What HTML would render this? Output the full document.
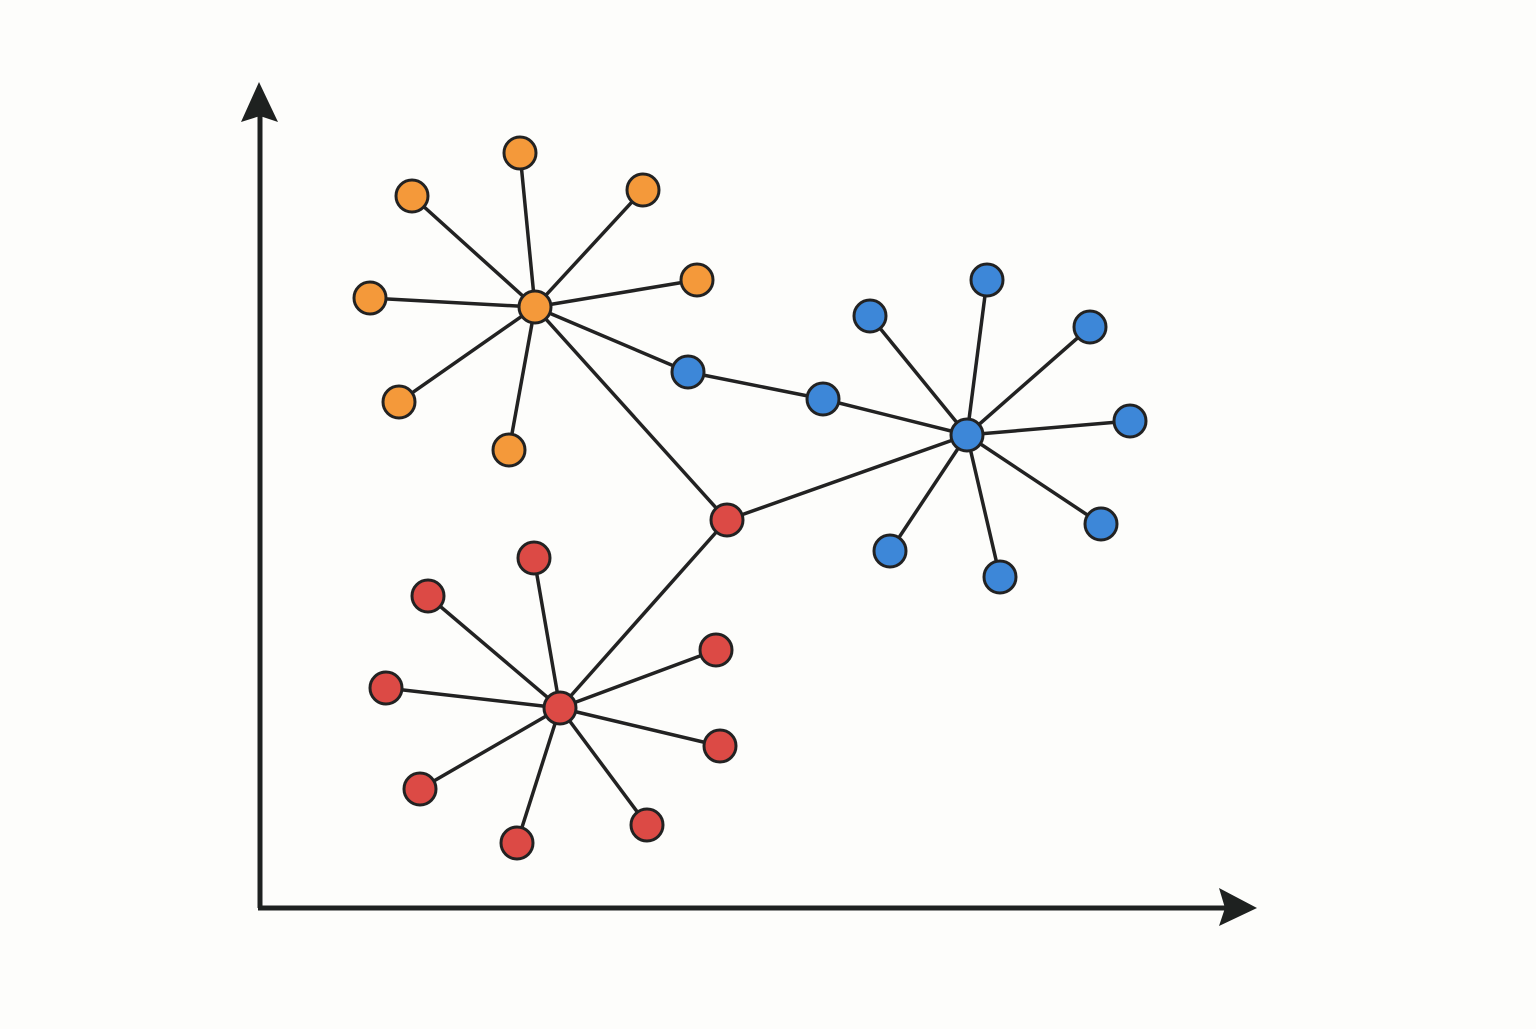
<!DOCTYPE html>
<html><head><meta charset="utf-8"><style>html,body{margin:0;padding:0;background:#fdfdfb}</style></head>
<body>
<svg width="1536" height="1024" viewBox="0 0 1536 1024" xmlns="http://www.w3.org/2000/svg">
<rect width="1536" height="1024" fill="#fdfdfb"/>
<g stroke="#1e2120" stroke-width="5" fill="none">
<line x1="260" y1="112" x2="260" y2="908"/>
<line x1="258" y1="908" x2="1228" y2="908"/>
</g>
<polygon points="259,82 278,122 260,116 241,122" fill="#1e2120"/>
<polygon points="1257,908 1219,888 1225,908 1219,926" fill="#1e2120"/>
<g stroke="#222" stroke-width="3.5">
<!-- orange -->
<line x1="535" y1="307" x2="520" y2="153"/>
<line x1="535" y1="307" x2="412" y2="196"/>
<line x1="535" y1="307" x2="643" y2="190"/>
<line x1="535" y1="307" x2="697" y2="280"/>
<line x1="535" y1="307" x2="370" y2="298"/>
<line x1="535" y1="307" x2="399" y2="402"/>
<line x1="535" y1="307" x2="509" y2="450"/>
<line x1="535" y1="307" x2="688" y2="372"/>
<line x1="535" y1="307" x2="727" y2="520"/>
<line x1="688" y1="372" x2="823" y2="399"/>
<line x1="823" y1="399" x2="967" y2="435"/>
<line x1="967" y1="435" x2="727" y2="520"/>
<line x1="727" y1="520" x2="560" y2="708"/>
<!-- blue -->
<line x1="967" y1="435" x2="987" y2="280"/>
<line x1="967" y1="435" x2="870" y2="316"/>
<line x1="967" y1="435" x2="1090" y2="327"/>
<line x1="967" y1="435" x2="1130" y2="421"/>
<line x1="967" y1="435" x2="1101" y2="524"/>
<line x1="967" y1="435" x2="1000" y2="577"/>
<line x1="967" y1="435" x2="890" y2="551"/>
<!-- red -->
<line x1="560" y1="708" x2="534" y2="558"/>
<line x1="560" y1="708" x2="428" y2="596"/>
<line x1="560" y1="708" x2="716" y2="650"/>
<line x1="560" y1="708" x2="386" y2="688"/>
<line x1="560" y1="708" x2="720" y2="746"/>
<line x1="560" y1="708" x2="420" y2="789"/>
<line x1="560" y1="708" x2="647" y2="825"/>
<line x1="560" y1="708" x2="517" y2="843"/>
</g>
<g stroke="#222" stroke-width="3">
<g fill="#f4993a">
<circle cx="535" cy="307" r="16"/>
<circle cx="520" cy="153" r="16"/><circle cx="412" cy="196" r="16"/><circle cx="643" cy="190" r="16"/>
<circle cx="697" cy="280" r="16"/><circle cx="370" cy="298" r="16"/><circle cx="399" cy="402" r="16"/>
<circle cx="509" cy="450" r="16"/>
</g>
<g fill="#3d87d8">
<circle cx="967" cy="435" r="16"/><circle cx="688" cy="372" r="16"/><circle cx="823" cy="399" r="16"/>
<circle cx="987" cy="280" r="16"/><circle cx="870" cy="316" r="16"/><circle cx="1090" cy="327" r="16"/>
<circle cx="1130" cy="421" r="16"/><circle cx="1101" cy="524" r="16"/><circle cx="1000" cy="577" r="16"/>
<circle cx="890" cy="551" r="16"/>
</g>
<g fill="#dc4a45">
<circle cx="727" cy="520" r="16"/><circle cx="560" cy="708" r="16"/>
<circle cx="534" cy="558" r="16"/><circle cx="428" cy="596" r="16"/><circle cx="716" cy="650" r="16"/>
<circle cx="386" cy="688" r="16"/><circle cx="720" cy="746" r="16"/><circle cx="420" cy="789" r="16"/>
<circle cx="647" cy="825" r="16"/><circle cx="517" cy="843" r="16"/>
</g>
</g>
</svg>
</body></html>
